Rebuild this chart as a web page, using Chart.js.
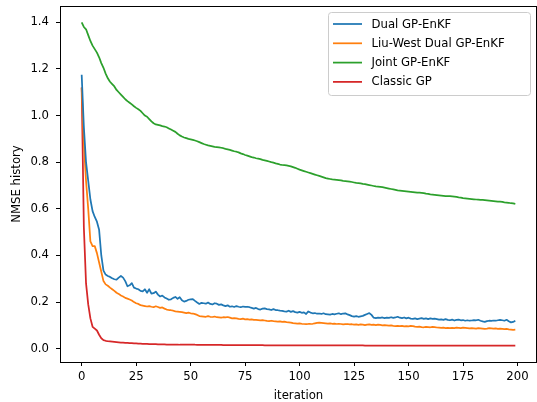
<!DOCTYPE html>
<html>
<head>
<meta charset="utf-8">
<script src="https://cdn.jsdelivr.net/npm/chart.js@4/dist/chart.umd.min.js"></script>
<style>
html,body{margin:0;padding:0;background:#fff;}
#wrap{width:537px;height:402px;position:relative;}
</style>
</head>
<body>
<div id="wrap"><canvas id="c" width="537" height="402"></canvas></div>
<script>
const seriesNames = ["Dual GP-EnKF", "Liu-West Dual GP-EnKF", "Joint GP-EnKF", "Classic GP"];
const xTicks = [0, 25, 50, 75, 100, 125, 150, 175, 200];
const yTicks = [0.0, 0.2, 0.4, 0.6, 0.8, 1.0, 1.2, 1.4];

const dualGP = [
1.175,0.950,0.800,0.720,0.640,0.590,0.565,0.545,0.510,0.400,
0.335,0.318,0.312,0.308,0.302,0.298,0.296,0.305,0.312,0.305,
0.290,0.268,0.272,0.281,0.262,0.258,0.255,0.248,0.246,0.255,
0.240,0.255,0.236,0.238,0.245,0.232,0.224,0.228,0.220,0.215,
0.210,0.212,0.218,0.222,0.214,0.221,0.208,0.202,0.205,0.210,
0.212,0.213,0.205,0.198,0.192,0.197,0.195,0.193,0.198,0.192,
0.190,0.195,0.193,0.188,0.190,0.186,0.183,0.186,0.180,0.182,
0.179,0.183,0.180,0.178,0.181,0.179,0.180,0.178,0.175,0.172,
0.175,0.170,0.168,0.172,0.173,0.170,0.169,0.166,0.170,0.166,
0.165,0.163,0.162,0.160,0.159,0.163,0.158,0.161,0.157,0.155,
0.158,0.154,0.156,0.149,0.160,0.155,0.152,0.153,0.150,0.151,
0.149,0.152,0.148,0.147,0.146,0.149,0.147,0.150,0.152,0.148,
0.151,0.152,0.147,0.144,0.140,0.138,0.140,0.137,0.139,0.141,
0.145,0.149,0.153,0.145,0.133,0.131,0.133,0.132,0.134,0.131,
0.133,0.132,0.135,0.132,0.134,0.137,0.133,0.131,0.134,0.130,
0.133,0.129,0.128,0.130,0.127,0.129,0.131,0.128,0.130,0.127,
0.130,0.128,0.129,0.127,0.125,0.126,0.124,0.127,0.124,0.122,
0.125,0.121,0.124,0.125,0.122,0.123,0.120,0.122,0.120,0.121,
0.123,0.122,0.124,0.120,0.117,0.115,0.118,0.120,0.119,0.121,
0.120,0.122,0.124,0.122,0.120,0.124,0.118,0.113,0.115,0.120
];

const liuWestGP = [
1.120,0.880,0.720,0.600,0.460,0.440,0.440,0.410,0.370,0.330,
0.290,0.276,0.270,0.262,0.255,0.248,0.240,0.235,0.228,0.224,
0.218,0.215,0.211,0.207,0.200,0.195,0.192,0.187,0.185,0.183,
0.181,0.183,0.180,0.178,0.182,0.179,0.175,0.177,0.172,0.168,
0.166,0.165,0.163,0.160,0.159,0.158,0.157,0.155,0.153,0.155,
0.152,0.151,0.148,0.145,0.140,0.139,0.138,0.137,0.140,0.137,
0.136,0.138,0.135,0.134,0.133,0.135,0.134,0.136,0.133,0.130,
0.131,0.130,0.128,0.127,0.129,0.126,0.127,0.125,0.126,0.124,
0.124,0.123,0.122,0.123,0.121,0.119,0.118,0.120,0.118,0.117,
0.116,0.117,0.115,0.116,0.114,0.113,0.112,0.110,0.109,0.108,
0.109,0.107,0.106,0.105,0.106,0.106,0.107,0.109,0.111,0.112,
0.111,0.110,0.109,0.108,0.109,0.107,0.108,0.106,0.107,0.106,
0.104,0.105,0.106,0.104,0.105,0.103,0.104,0.102,0.104,0.103,
0.101,0.103,0.104,0.102,0.103,0.101,0.103,0.102,0.100,0.101,
0.100,0.099,0.100,0.098,0.097,0.098,0.097,0.098,0.096,0.097,
0.096,0.098,0.097,0.095,0.094,0.095,0.093,0.092,0.094,0.093,
0.092,0.094,0.093,0.091,0.090,0.089,0.090,0.088,0.089,0.088,
0.089,0.088,0.090,0.089,0.088,0.090,0.089,0.088,0.087,0.088,
0.087,0.086,0.088,0.087,0.086,0.085,0.086,0.088,0.087,0.086,
0.087,0.085,0.086,0.085,0.084,0.085,0.083,0.082,0.081,0.082
];

const jointGP = [
1.400,1.380,1.370,1.345,1.320,1.300,1.285,1.270,1.250,1.225,
1.205,1.180,1.160,1.145,1.135,1.125,1.110,1.100,1.090,1.080,
1.070,1.062,1.055,1.048,1.040,1.033,1.027,1.020,1.010,1.000,
0.995,0.985,0.975,0.967,0.962,0.960,0.958,0.955,0.953,0.950,
0.945,0.940,0.935,0.930,0.922,0.915,0.910,0.906,0.903,0.900,
0.898,0.896,0.893,0.890,0.886,0.882,0.878,0.875,0.872,0.870,
0.868,0.866,0.865,0.864,0.862,0.860,0.857,0.855,0.853,0.850,
0.847,0.845,0.842,0.838,0.835,0.831,0.828,0.825,0.822,0.820,
0.817,0.815,0.813,0.810,0.808,0.806,0.803,0.800,0.798,0.795,
0.793,0.790,0.788,0.787,0.786,0.784,0.782,0.779,0.776,0.772,
0.768,0.765,0.762,0.759,0.756,0.753,0.750,0.747,0.744,0.741,
0.738,0.735,0.732,0.730,0.728,0.726,0.725,0.724,0.723,0.722,
0.720,0.719,0.718,0.717,0.715,0.713,0.711,0.710,0.709,0.707,
0.706,0.704,0.702,0.700,0.698,0.696,0.695,0.694,0.693,0.691,
0.689,0.687,0.685,0.683,0.681,0.679,0.678,0.677,0.676,0.675,
0.674,0.673,0.672,0.671,0.670,0.669,0.668,0.667,0.665,0.664,
0.662,0.661,0.660,0.659,0.658,0.657,0.656,0.655,0.654,0.654,
0.653,0.652,0.651,0.649,0.648,0.646,0.645,0.644,0.643,0.642,
0.641,0.640,0.639,0.638,0.638,0.637,0.636,0.635,0.634,0.633,
0.632,0.631,0.631,0.630,0.628,0.627,0.626,0.624,0.623,0.621
];

const classicGP = [
1.120,0.520,0.280,0.190,0.130,0.094,0.086,0.078,0.060,0.045,
0.037,0.034,0.032,0.031,0.030,0.029,0.028,0.027,0.026,0.026,
0.025,0.025,0.024,0.024,0.023,0.023,0.022,0.022,0.021,0.021,
0.021,0.020,0.020,0.020,0.020,0.019,0.019,0.019,0.019,0.018,
0.018,0.018,0.018,0.018,0.018,0.017,0.017,0.017,0.017,0.017,
0.017,0.017,0.017,0.016,0.016,0.016,0.016,0.016,0.016,0.016,
0.016,0.016,0.016,0.016,0.016,0.015,0.015,0.015,0.015,0.015,
0.015,0.015,0.015,0.015,0.015,0.015,0.015,0.015,0.015,0.015,
0.015,0.015,0.015,0.015,0.014,0.014,0.014,0.014,0.014,0.014,
0.014,0.014,0.014,0.014,0.014,0.014,0.014,0.014,0.014,0.014,
0.014,0.014,0.014,0.014,0.014,0.014,0.014,0.014,0.014,0.014,
0.014,0.014,0.014,0.014,0.014,0.014,0.014,0.014,0.014,0.014,
0.014,0.014,0.014,0.014,0.014,0.014,0.014,0.014,0.014,0.014,
0.013,0.013,0.013,0.013,0.013,0.013,0.013,0.013,0.013,0.013,
0.013,0.013,0.013,0.013,0.013,0.013,0.013,0.013,0.013,0.013,
0.013,0.013,0.013,0.013,0.013,0.013,0.013,0.013,0.013,0.013,
0.013,0.013,0.013,0.013,0.013,0.013,0.013,0.013,0.013,0.013,
0.013,0.013,0.013,0.013,0.013,0.013,0.013,0.013,0.013,0.013,
0.013,0.013,0.013,0.013,0.013,0.013,0.013,0.013,0.013,0.013,
0.013,0.013,0.013,0.013,0.013,0.013,0.013,0.013,0.013,0.013
];

const colors = ["#1f77b4", "#ff7f0e", "#2ca02c", "#d62728"];
const allSeries = [dualGP, liuWestGP, jointGP, classicGP];

const FONT = "'DejaVu Sans', sans-serif";
const FS = 11.7;

const datasets = allSeries.map((s, k) => ({
  label: seriesNames[k],
  data: s.map((v, i) => ({x: i, y: v})),
  borderColor: colors[k],
  backgroundColor: colors[k],
  borderWidth: 1.75,
  pointRadius: 0,
  tension: 0,
  fill: false,
  borderJoinStyle: 'round'
}));

const framePlugin = {
  id: 'frame',
  afterDatasetsDraw(chart) {
    const {ctx, chartArea: a} = chart;
    ctx.save();
    ctx.strokeStyle = '#000';
    ctx.lineWidth = 1;
    ctx.beginPath();
    ctx.moveTo(a.left, a.top + 0.5); ctx.lineTo(a.right, a.top + 0.5);
    ctx.moveTo(a.right - 0.5, a.top); ctx.lineTo(a.right - 0.5, a.bottom);
    ctx.stroke();
    ctx.restore();
  },
  afterDraw(chart) {
    const {ctx} = chart;
    const ds = chart.data.datasets;
    const bx = 328.5, by = 12.5, bw = 202, bh = 83;
    ctx.save();
    const r = 3;
    ctx.beginPath();
    ctx.moveTo(bx + r, by);
    ctx.lineTo(bx + bw - r, by); ctx.arcTo(bx + bw, by, bx + bw, by + r, r);
    ctx.lineTo(bx + bw, by + bh - r); ctx.arcTo(bx + bw, by + bh, bx + bw - r, by + bh, r);
    ctx.lineTo(bx + r, by + bh); ctx.arcTo(bx, by + bh, bx, by + bh - r, r);
    ctx.lineTo(bx, by + r); ctx.arcTo(bx, by, bx + r, by, r);
    ctx.closePath();
    ctx.fillStyle = 'rgba(255,255,255,0.8)';
    ctx.fill();
    ctx.strokeStyle = '#cccccc';
    ctx.lineWidth = 1;
    ctx.stroke();
    ctx.font = FS + 'px ' + FONT;
    ctx.textBaseline = 'middle';
    ctx.textAlign = 'left';
    ds.forEach((d, k) => {
      const y = 24 + k * 19.3;
      ctx.strokeStyle = d.borderColor;
      ctx.lineWidth = 1.75;
      ctx.beginPath();
      ctx.moveTo(333, y); ctx.lineTo(362, y);
      ctx.stroke();
      ctx.fillStyle = '#000';
      ctx.fillText(d.label, 371.5, y + 0.5);
    });
    ctx.restore();
  }
};

new Chart(document.getElementById('c'), {
  type: 'line',
  data: {datasets},
  plugins: [framePlugin],
  options: {
    responsive: false,
    animation: false,
    devicePixelRatio: 1,
    layout: {padding: {top: 6, right: 0, left: 0, bottom: 0}},
    plugins: {legend: {display: false}, tooltip: {enabled: false}},
    scales: {
      x: {
        type: 'linear',
        min: -9.95,
        max: 208.95,
        afterBuildTicks: s => { s.ticks = xTicks.map(v => ({value: v})); },
        afterFit: s => { s.height = 40; s.paddingLeft = 0; s.paddingRight = 0; },
        grid: {display: true, drawOnChartArea: false, drawTicks: true, tickLength: 4, tickColor: '#000', tickWidth: 1},
        border: {display: true, color: '#000', width: 1},
        ticks: {autoSkip: false, maxRotation: 0, padding: 4, color: '#000', font: {family: FONT, size: FS},
                callback: v => String(v)},
        title: {display: true, text: 'iteration', color: '#000', font: {family: FONT, size: FS, lineHeight: 1.1}, padding: {top: 0, bottom: 0}}
      },
      y: {
        type: 'linear',
        min: -0.057,
        max: 1.47,
        afterBuildTicks: s => { s.ticks = yTicks.map(v => ({value: v})); },
        afterFit: s => { s.width = 60; s.paddingTop = 0; s.paddingBottom = 0; },
        grid: {display: true, drawOnChartArea: false, drawTicks: true, tickLength: 4, tickColor: '#000', tickWidth: 1},
        border: {display: true, color: '#000', width: 1},
        ticks: {autoSkip: false, padding: 7, color: '#000', font: {family: FONT, size: FS},
                callback: v => Number(v).toFixed(1)},
        title: {display: true, text: 'NMSE history', color: '#000', font: {family: FONT, size: FS}, padding: {top: 10, bottom: 0}}
      }
    }
  }
});
</script>
</body>
</html>
